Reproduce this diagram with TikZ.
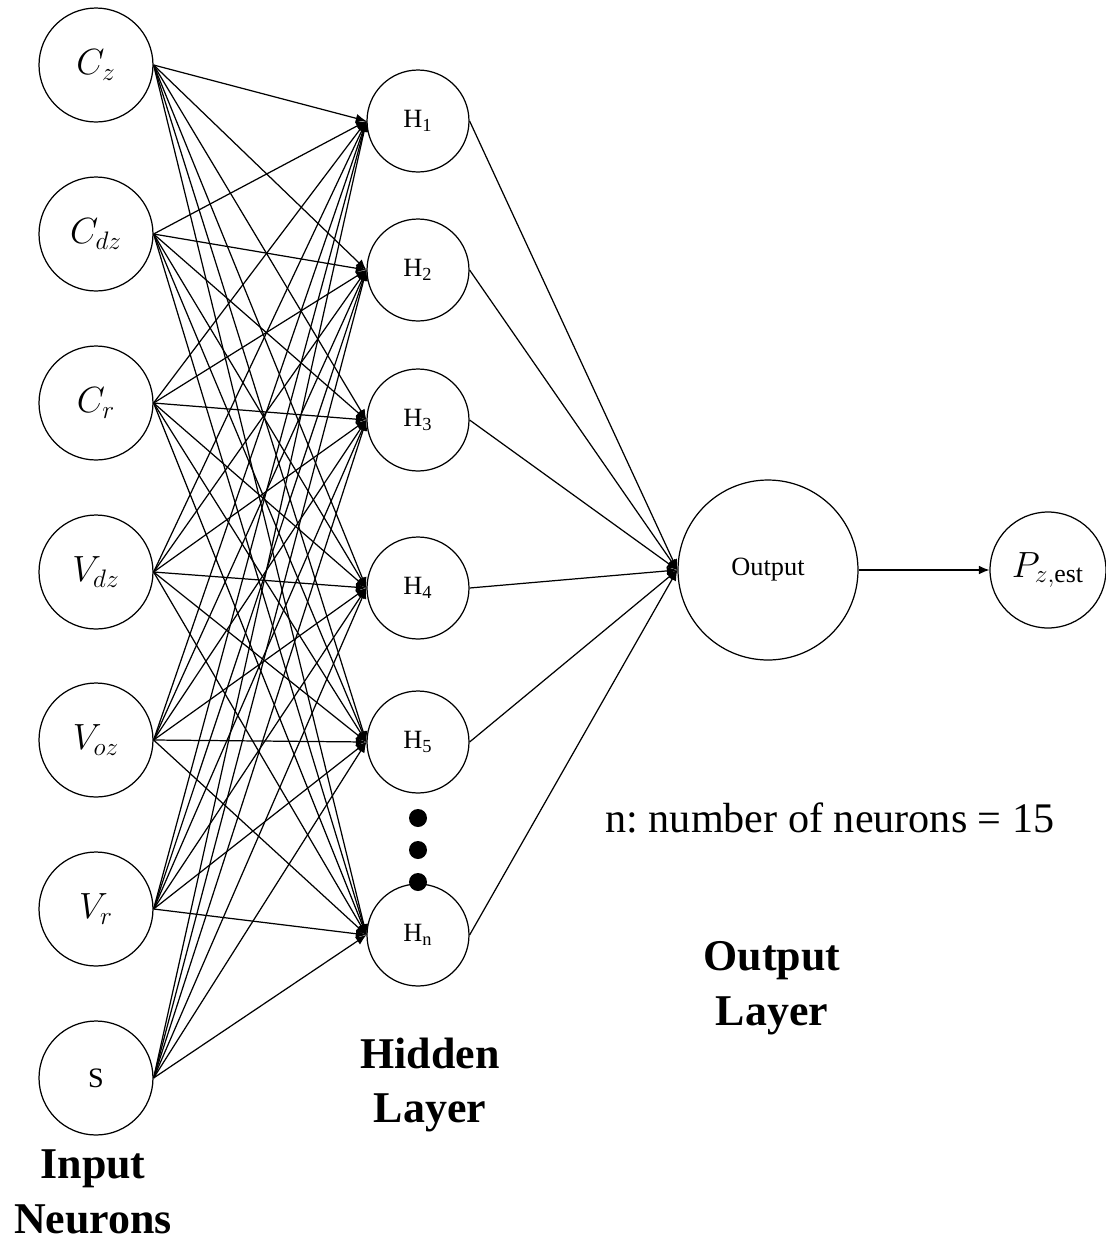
\documentclass[tikz,border=0pt]{standalone}
\usepackage{fontspec}
\setmainfont{Liberation Serif}
\usepackage{tikz}
\usetikzlibrary{arrows.meta}
\frenchspacing

\begin{document}
\begin{tikzpicture}[x=0.02cm, y=-0.02cm, line width=0.7pt,
  neuron/.style={draw, circle, inner sep=0pt},
  inp/.style={neuron, minimum size=2.28cm, font=\fontsize{21}{24}\selectfont},
  hid/.style={neuron, minimum size=2.04cm, font=\fontsize{15}{18}\selectfont},
  outn/.style={neuron, minimum size=3.6cm, font=\fontsize{15}{18}\selectfont},
  est/.style={neuron, minimum size=2.32cm, font=\fontsize{21}{24}\selectfont},
  caption/.style={align=center, font=\fontsize{25}{31}\selectfont\bfseries},
  arr/.style={-{Latex[length=6pt, width=5pt]}}]
\useasboundingbox (0,0) rectangle (1106,1245);
% input neurons
\node[inp] (in1) at (96,65) {$C_z$};
\node[inp] (in2) at (96,234) {$C_{dz}$};
\node[inp] (in3) at (96,403) {$C_r$};
\node[inp] (in4) at (96,572) {$V_{dz}$};
\node[inp] (in5) at (96,740) {$V_{oz}$};
\node[inp] (in6) at (96,909) {$V_r$};
\node[inp, font=\fontsize{16}{19}\selectfont] (in7) at (96,1078) {S};
% hidden layer
\node[hid] (h1) at (418,121) {H\textsubscript{1}};
\node[hid] (h2) at (418,270) {H\textsubscript{2}};
\node[hid] (h3) at (418,420) {H\textsubscript{3}};
\node[hid] (h4) at (418,588) {H\textsubscript{4}};
\node[hid] (h5) at (418,742) {H\textsubscript{5}};
\node[hid] (h6) at (418,935) {H\textsubscript{n}};
\foreach \k in {818,850,882} \fill (418,\k) circle (9);
% output
\node[outn] (out) at (768,570) {Output};
\node[est] (pz) at (1048,570) {$P_{z,\mathrm{est}}$};
\foreach \i in {1,...,7} \foreach \j in {1,...,6} \draw[arr] (in\i.east) -- (h\j.west);
\foreach \j in {1,...,6} \draw[arr] (h\j.east) -- (out.west);
\draw[arr] (out.east) -- (pz.west);
% labels
\node[font=\fontsize{24}{28}\selectfont] (note) at (830,818) {n: number of neurons = 15};
\node[caption] (lblin) at (93,1192) {Input\\Neurons};
\node[caption] (lblhid) at (430,1085) {Hidden\\Layer};
\node[caption] (lblout) at (772,988) {Output\\Layer};
\end{tikzpicture}
\end{document}
